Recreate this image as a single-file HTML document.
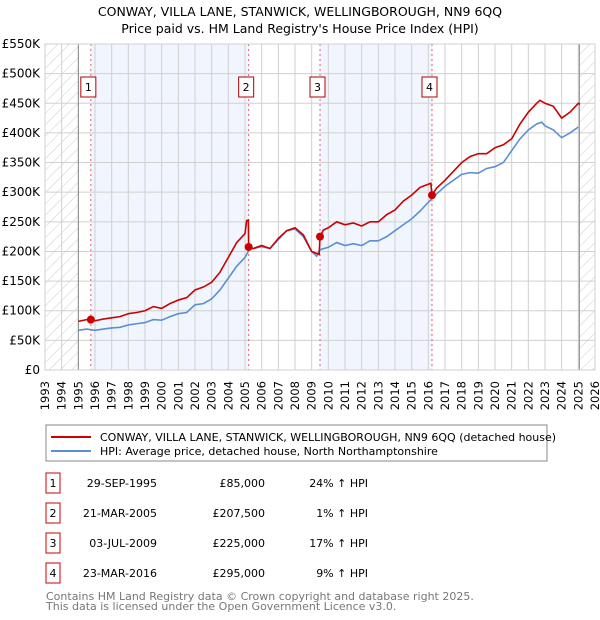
<!DOCTYPE html>
<html><head><meta charset="utf-8"><style>
body{margin:0;background:#fff;font-family:"DejaVu Sans","Liberation Sans",sans-serif;}
svg{display:block}
</style></head><body>
<svg id="chart" width="600" height="620" viewBox="0 0 600 620">
<defs>
<pattern id="hatch" width="8" height="8" patternUnits="userSpaceOnUse" patternTransform="rotate(45)">
<line x1="0" y1="0" x2="0" y2="8" stroke="#ccc" stroke-width="1"/>
</pattern>
</defs>
<text x="300" y="16" text-anchor="middle" font-size="12.5" fill="#000">CONWAY, VILLA LANE, STANWICK, WELLINGBOROUGH, NN9 6QQ</text>
<text x="300" y="33" text-anchor="middle" font-size="12.5" fill="#000">Price paid vs. HM Land Registry's House Price Index (HPI)</text>
<g id="plot"></g>
<g id="legend">
<rect x="46" y="425" width="501" height="36" fill="#fff" stroke="#888"/>
<line x1="51" y1="437" x2="91" y2="437" stroke="#cc0000" stroke-width="2"/>
<text x="100" y="441" font-size="11">CONWAY, VILLA LANE, STANWICK, WELLINGBOROUGH, NN9 6QQ (detached house)</text>
<line x1="51" y1="451" x2="91" y2="451" stroke="#5b8fd4" stroke-width="2"/>
<text x="100" y="455" font-size="11">HPI: Average price, detached house, North Northamptonshire</text>
</g>
<g id="table" font-size="11"></g>
<text x="46" y="600" font-size="11" fill="#777">Contains HM Land Registry data © Crown copyright and database right 2025.</text>
<text x="46" y="610" font-size="11" fill="#777">This data is licensed under the Open Government Licence v3.0.</text>
</svg>
<script>
const yTicks=[0,50,100,150,200,250,300,350,400,450,500,550];
const yTickLabels=["£0","£50K","£100K","£150K","£200K","£250K","£300K","£350K","£400K","£450K","£500K","£550K"];
const years=[1993,1994,1995,1996,1997,1998,1999,2000,2001,2002,2003,2004,2005,2006,2007,2008,2009,2010,2011,2012,2013,2014,2015,2016,2017,2018,2019,2020,2021,2022,2023,2024,2025,2026];
const hpiT=[1995.0,1995.5,1996,1996.5,1997,1997.5,1998,1998.5,1999,1999.5,2000,2000.5,2001,2001.5,2002,2002.5,2003,2003.5,2004,2004.5,2005,2005.3,2005.5,2006,2006.5,2007,2007.5,2008,2008.5,2009,2009.3,2009.5,2010,2010.5,2011,2011.5,2012,2012.5,2013,2013.5,2014,2014.5,2015,2015.5,2016,2016.5,2017,2017.5,2018,2018.5,2019,2019.5,2020,2020.5,2021,2021.5,2022,2022.5,2022.8,2023,2023.5,2024,2024.5,2025];
const hpiV=[67,69,67,69,71,72,76,78,80,85,84,90,95,97,110,112,120,135,155,175,190,205,205,208,205,220,235,238,225,200,192,203,207,215,210,213,210,218,218,225,235,245,255,268,283,297,310,320,330,333,332,340,343,350,370,390,405,415,418,412,405,392,400,410];
const propT=[1995.0,1995.5,1995.75,1996,1996.5,1997,1997.5,1998,1998.5,1999,1999.5,2000,2000.5,2001,2001.5,2002,2002.5,2003,2003.5,2004,2004.5,2005,2005.1,2005.2,2005.22,2005.5,2006,2006.5,2007,2007.5,2008,2008.5,2009,2009.45,2009.5,2009.7,2010,2010.5,2011,2011.5,2012,2012.5,2013,2013.5,2014,2014.5,2015,2015.5,2016.15,2016.22,2016.5,2017,2017.5,2018,2018.5,2019,2019.5,2020,2020.5,2021,2021.5,2022,2022.5,2022.7,2023,2023.5,2024,2024.5,2025,2025.1];
const propV=[82,85,85,83,86,88,90,95,97,100,107,104,112,118,122,135,140,148,165,190,215,230,252,253,207,205,210,205,222,235,240,228,200,195,225,236,240,250,245,248,243,250,250,262,270,285,295,308,315,295,307,320,335,350,360,365,365,375,380,390,415,435,450,455,450,445,425,435,450,448];
const saleT=[1995.75,2005.22,2009.5,2016.22];
const saleV=[85,207.5,225,295];
const saleLabels=["1","2","3","4"];
const saleDates=["29-SEP-1995","21-MAR-2005","03-JUL-2009","23-MAR-2016"];
const salePrices=["£85,000","£207,500","£225,000","£295,000"];
const saleHpi=["24% ↑ HPI","1% ↑ HPI","17% ↑ HPI","9% ↑ HPI"];

const X0=45,X1=595,Y0=370,Y1=44;
const xs=t=>X0+(t-1993)/(2026-1993)*(X1-X0);
const ys=v=>Y0-v/550*(Y0-Y1);
const NS="http://www.w3.org/2000/svg";
const plot=document.getElementById('plot');
function mk(tag,attrs,parent){const e=document.createElementNS(NS,tag);for(const k in attrs)e.setAttribute(k,attrs[k]);(parent||plot).appendChild(e);return e;}

for(let i=0;i<saleT.length;i+=2){
  const r=mk('rect',{x:xs(saleT[i]),y:Y1,width:xs(saleT[i+1])-xs(saleT[i]),height:Y0-Y1,fill:'#eef3fc',opacity:0.8});
  
  
}
const h1=mk('rect',{x:xs(1993),y:Y1,width:xs(1995)-xs(1993),height:Y0-Y1,fill:'url(#hatch)'});


const h2=mk('rect',{x:xs(2025.06),y:Y1,width:xs(2026)-xs(2025.06),height:Y0-Y1,fill:'url(#hatch)'});


yTicks.forEach((v,i)=>{
  const l=mk('line',{x1:X0,x2:X1,y1:ys(v),y2:ys(v),stroke:'#d0d0d0','stroke-width':1});
  
  
  const t=mk('text',{x:40,y:ys(v)+4,'text-anchor':'end','font-size':12,fill:'#000'});
  t.textContent=yTickLabels[i];
  
  
});
years.forEach(yr=>{
  const l=mk('line',{x1:xs(yr),x2:xs(yr),y1:Y1,y2:Y0,stroke:'#d0d0d0','stroke-width':1});
  
  
  const t=mk('text',{x:0,y:0,'text-anchor':'end','font-size':11.5,fill:'#000',transform:`translate(${xs(yr)+4},${Y0+11}) rotate(-90)`});
  t.textContent=yr;
  
  
});
const v1=mk('line',{x1:xs(1995),x2:xs(1995),y1:Y1,y2:Y0,stroke:'#888','stroke-width':1});


const v2=mk('line',{x1:xs(2025.06),x2:xs(2025.06),y1:Y1,y2:Y0,stroke:'#888','stroke-width':1});


saleT.forEach((t,i)=>{
  const l=mk('line',{x1:xs(t),x2:xs(t),y1:Y1,y2:Y0,stroke:'#e06070','stroke-width':1,'stroke-dasharray':'2,3'});
  
  
  const bx=xs(t)-10;
  const r=mk('rect',{x:bx,y:77,width:15,height:20,fill:'#fff',stroke:'#b00000','stroke-width':1});
  
  
  const tx=mk('text',{x:bx+7.5,y:91,'text-anchor':'middle','font-size':11});
  tx.textContent=saleLabels[i];
  
  
});
const hp=mk('polyline',{points:hpiT.map((t,i)=>xs(t)+','+ys(hpiV[i])).join(' '),fill:'none',stroke:'#5b8fd4','stroke-width':1.6});


const pp=mk('polyline',{points:propT.map((t,i)=>xs(t)+','+ys(propV[i])).join(' '),fill:'none',stroke:'#cc0000','stroke-width':1.6});


saleT.forEach((t,i)=>{
  const c=mk('circle',{cx:xs(t),cy:ys(saleV[i]),r:4,fill:'#cc0000'});
  
  
});
const border=mk('rect',{x:X0,y:Y1,width:X1-X0,height:Y0-Y1,fill:'none',stroke:'#d0d0d0'});



const tbl=document.getElementById('table');
const rowsY=[483,513,543,573];
saleLabels.forEach((s,i)=>{
  const y=rowsY[i];
  const r=mk('rect',{x:46,y:y-10,width:14,height:20,fill:'#fff',stroke:'#cc0000'},tbl);
  
  
  const n=mk('text',{x:53,y:y+4,'text-anchor':'middle'},tbl);
  n.textContent=s;
  
  
  const d=mk('text',{x:157,y:y+4,'text-anchor':'end'},tbl);
  d.textContent=saleDates[i];
  
  
  const p=mk('text',{x:265,y:y+4,'text-anchor':'end'},tbl);
  p.textContent=salePrices[i];
  
  
  const h=mk('text',{x:368,y:y+4,'text-anchor':'end'},tbl);
  h.textContent=saleHpi[i];
  
  
});
</script>
</body></html>
